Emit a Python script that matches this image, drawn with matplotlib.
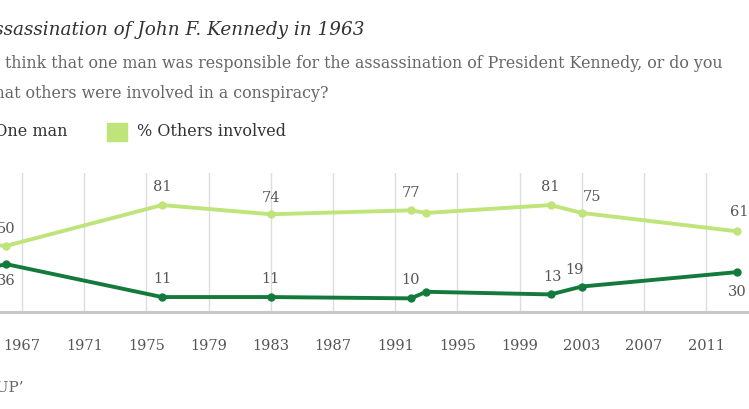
import matplotlib.pyplot as plt

# Gallup: lone gunman vs conspiracy
years = [1963, 1966, 1976, 1983, 1992, 1993, 2001, 2003, 2013]
one_man = [29, 36, 11, 11, 10, 15, 13, 19, 30]
others = [52, 50, 81, 74, 77, 75, 81, 75, 61]
# which points get a value label
labeled = [False, True, True, True, True, False, True, True, True]
tick_years = list(range(1963, 2013, 4))

dark = '#137a3c'
light = '#bfe47a'
serif = 'DejaVu Serif'

fig = plt.figure(figsize=(7.49, 4.09), dpi=100)
ax = fig.add_axes([0, 1 - 311.5 / 409, 1, (311.5 - 173) / 409])

for y in tick_years:
    ax.axvline(y, color='#dddddd', lw=1, zorder=1)
ax.axhline(0, color='#c8c8c8', lw=2.2, zorder=2, clip_on=False)

ax.plot(years, others, color=light, lw=2.8, marker='o', ms=5, zorder=3)
ax.plot(years, one_man, color=dark, lw=2.8, marker='o', ms=5, zorder=4)

# value labels (offsets in pixels)
light_off = {1966: (0, 17), 1976: (0, 18), 1983: (0, 16), 1992: (0, 17),
             2001: (0, 18), 2003: (10, 16), 2013: (2, 19)}
dark_off = {1966: (0, -17), 1976: (0, 18), 1983: (0, 18), 1992: (0, 18),
            2001: (2, 17), 2003: (-7, 17), 2013: (0, -20)}
for yr, a, b, show in zip(years, one_man, others, labeled):
    if not show:
        continue
    ax.annotate(str(b), (yr, b), xytext=light_off[yr], textcoords='offset pixels',
                ha='center', va='center', fontsize=10.5, color='#555555', family=serif)
    ax.annotate(str(a), (yr, a), xytext=dark_off[yr], textcoords='offset pixels',
                ha='center', va='center', fontsize=10.5, color='#555555', family=serif)

ax.set_xticks(tick_years)
ax.set_xticklabels([str(y) for y in tick_years], family=serif, fontsize=10.5, color='#555555')
ax.tick_params(axis='x', length=0, pad=20)
ax.set_yticks([])
# limits after the ticks, the chart is cropped on the left
ax.set_xlim(1965.585, 2013.75)
ax.set_ylim(0, 105.4)
for s in ax.spines.values():
    s.set_visible(False)

# header text, partly cut off at the left edge like the original
fig.text(365 / 749, 1 - 30 / 409, 'Assassination of John F. Kennedy in 1963', ha='right', va='center',
         fontsize=13.2, style='italic', family=serif, color='#333333')
fig.text(723 / 749, 1 - 63 / 409,
         'Do you think that one man was responsible for the assassination of President Kennedy, or do you',
         ha='right', va='center', fontsize=11.4, family=serif, color='#666666')
fig.text(328 / 749, 1 - 93 / 409, 'think that others were involved in a conspiracy?',
         ha='right', va='center', fontsize=11.4, family=serif, color='#666666')

# legend
fig.text(67 / 749, 1 - 132 / 409, '% One man', ha='right', va='center',
         fontsize=11.5, family=serif, color='#333333')
fig.patches.append(plt.Rectangle((107 / 749, 1 - 141 / 409), 20 / 749, 18 / 409,
                                 transform=fig.transFigure, color=light))
fig.text(137 / 749, 1 - 132 / 409, '% Others involved', ha='left', va='center',
         fontsize=11.5, family=serif, color='#333333')

fig.text(24 / 749, 1 - 388 / 409, 'GALLUP\u2019', ha='right', va='center',
         fontsize=11, family=serif, color='#666666')

fig.savefig('out.png', dpi=100)
